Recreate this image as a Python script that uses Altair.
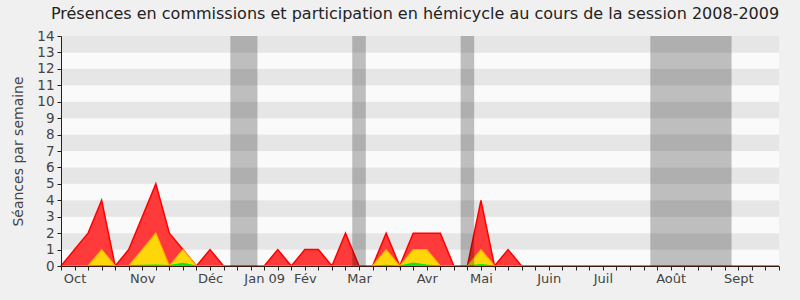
import altair as alt
import pandas as pd

# ---- data (weekly, session 2008-2009) ----
weeks = list(range(54))
presence_total = [0, 1, 2, 4, 0, 1, 3, 5, 2, 1, 0, 1, 0, 0, 0, 0, 1, 0, 1, 1,
                  0, 2, 0, 0, 2, 0, 2, 2, 2, 0, 0, 4, 0, 1, 0, 0, 0, 0, 0, 0,
                  0, 0, 0, 0, 0, 0, 0, 0, 0, 0, 0, 0, 0, 0]
participation = [0, 0, 0, 1, 0, 0, 1, 2, 0, 1, 0, 0, 0, 0, 0, 0, 0, 0, 0, 0,
                 0, 0, 0, 0, 1, 0, 1, 1, 0, 0, 0, 1, 0, 0, 0, 0, 0, 0, 0, 0,
                 0, 0, 0, 0, 0, 0, 0, 0, 0, 0, 0, 0, 0, 0]
commission = [0, 0, 0, 0.03, 0, 0.03, 0.04, 0.06, 0.03, 0.16, 0, 0, 0, 0, 0, 0, 0, 0, 0, 0,
              0, 0, 0, 0, 0.04, 0, 0.18, 0.06, 0, 0, 0, 0.08, 0, 0, 0, 0, 0, 0, 0, 0,
              0, 0, 0, 0, 0, 0, 0, 0, 0, 0, 0, 0, 0, 0]

month_weeks = [1, 6, 11, 15, 18, 22, 27, 31, 36, 40, 45, 50]
month_labels = ["Oct", "Nov", "Déc", "Jan 09", "Fév", "Mar", "Avr", "Mai",
                "Juin", "Juil", "Août", "Sept"]

vacation_start = [12.5, 21.5, 29.5, 43.5]
vacation_end = [14.5, 22.5, 30.5, 49.5]

band_start = list(range(14))
y_ticks = list(range(15))

W, H = 718, 230

df = pd.DataFrame({"week": weeks, "total": presence_total,
                   "part": participation, "comm": commission})
bands = pd.DataFrame({"y0": band_start, "y1": [b + 1 for b in band_start],
                      "odd": [b % 2 for b in band_start]})
vac = pd.DataFrame({"s": vacation_start, "e": vacation_end})

label_expr = "".join(f"datum.value == {w} ? '{l}' : " for w, l in zip(month_weeks, month_labels)) + "''"

xscale = alt.Scale(domain=[0, 53], nice=False, zero=False)
yscale = alt.Scale(domain=[0, 14], nice=False)

xaxis = alt.Axis(values=weeks, labelExpr=label_expr, title=None, grid=False,
                 labelOverlap=False, labelFlush=False, tickSize=4, tickColor="#222",
                 domainColor="#3a1a10", labelFont="DejaVu Sans", labelFontSize=13,
                 labelColor="#444", labelPadding=2, zindex=1)
yaxis = alt.Axis(values=y_ticks, title="Séances par semaine", grid=False,
                 labelOverlap=False, labelFlush=False,
                 tickSize=4, tickColor="#222", domainColor="#222",
                 labelFont="DejaVu Sans", labelFontSize=13.5, labelColor="#444",
                 titleFont="DejaVu Sans", titleFontSize=14, titleFontWeight="normal",
                 titleColor="#444", titlePadding=11, labelPadding=3, zindex=1)

X = lambda f: alt.X(f, scale=xscale, axis=xaxis)
Y = lambda f: alt.Y(f, scale=yscale, axis=yaxis)

band_layer = alt.Chart(bands).mark_rect().encode(
    x=alt.value(0), x2=alt.value(W),
    y=Y("y0:Q"),
    y2="y1:Q",
    color=alt.Color("odd:N", scale=alt.Scale(domain=[0, 1], range=["#fafafa", "#e6e6e6"]), legend=None),
)

base = alt.Chart(df)
red = base.mark_area(color="#ff3a3a", line={"color": "#ff0000", "strokeWidth": 1.5}, opacity=1).encode(
    x=X("week:Q"), y=Y("total:Q"),
)
yellow = base.mark_area(color="#ffd60a", line={"color": "#ffb400", "strokeWidth": 1.2}, opacity=1).encode(
    x=X("week:Q"), y=Y("part:Q"),
)
green = base.mark_area(color="#22dd22", line={"color": "#00ee00", "strokeWidth": 1.2}, opacity=1).encode(
    x=X("week:Q"), y=Y("comm:Q"),
)
vac_layer = alt.Chart(vac).mark_rect(color="#000000", opacity=0.24).encode(
    x=X("s:Q"), x2="e:Q",
    y=alt.value(0), y2=alt.value(H),
)

chart = alt.layer(band_layer, red, yellow, green, vac_layer).properties(
    width=W, height=H,
    autosize=alt.AutoSizeParams(type="none"),
    padding={"left": 61, "top": 36, "right": 21, "bottom": 34},
    background="#f0f0f0",
    title=alt.TitleParams(
        "Présences en commissions et participation en hémicycle au cours de la session 2008-2009",
        font="DejaVu Sans", fontSize=16, fontWeight="normal", color="#222",
        anchor="middle", offset=7, dx=-5),
).configure_view(stroke=None)

chart.save("out.html", embed_options={"renderer": "svg", "actions": False})
